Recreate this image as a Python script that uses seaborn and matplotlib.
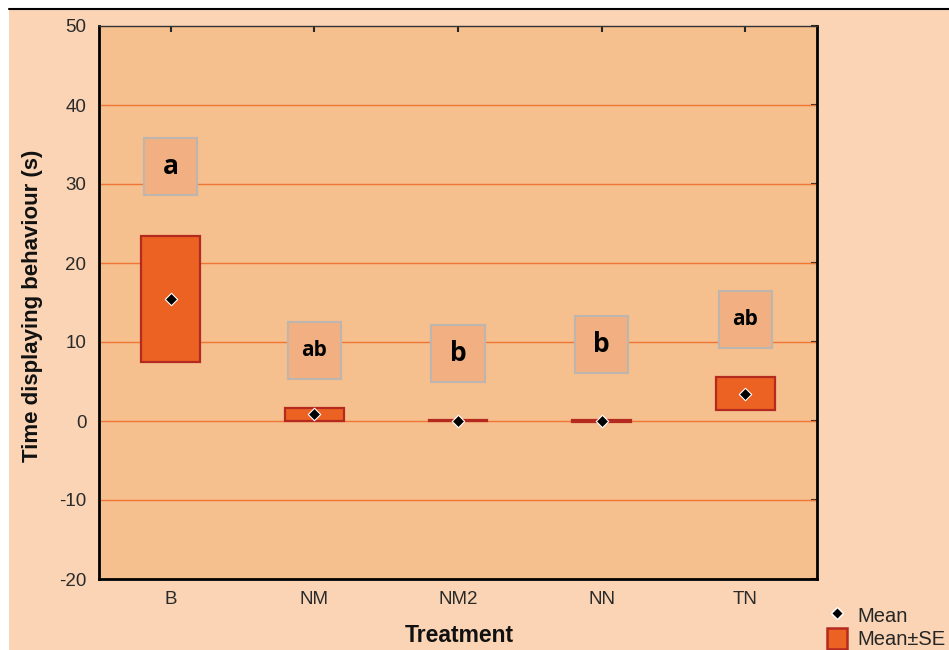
import numpy as np
import pandas as pd
import matplotlib
matplotlib.use("Agg")
import matplotlib.pyplot as plt
from matplotlib.patches import Rectangle
from matplotlib.lines import Line2D
from matplotlib.patches import Patch
import seaborn as sns

# ---- data ----
treatments = ["B", "NM", "NM2", "NN", "TN"]
means = [15.4, 0.9, 0.05, 0.0, 3.4]
se_low = [7.5, 0.0, 0.0, -0.1, 1.4]
se_high = [23.4, 1.6, 0.15, 0.1, 5.6]
letters = ["a", "ab", "b", "b", "ab"]
letter_y = [32.2, 8.9, 8.55, 9.65, 12.85]
yticks = [-20, -10, 0, 10, 20, 30, 40, 50]

df = pd.DataFrame({"Treatment": treatments, "Mean": means,
                   "low": se_low, "high": se_high})

sns.set_style("white")
plt.rcParams["font.family"] = ["Liberation Sans", "DejaVu Sans"]
plt.rcParams["axes.unicode_minus"] = False

OUTER = "#FAD4B4"
AXBG = "#F5BF8E"
BARFC = "#EB6223"
BAREC = "#B52A1E"
GRID = "#F07634"
BOXFC = "#F2B082"
BOXEC = "#BDB5AE"

fig = plt.figure(figsize=(9.49, 6.5), dpi=100)
fig.patch.set_facecolor("white")
fig.patches.append(Rectangle((9 / 949, 0), 1, 1 - 9 / 650, transform=fig.transFigure,
                             facecolor=OUTER, edgecolor="none", zorder=-10))
fig.lines.append(Line2D([9 / 949, 1], [1 - 9 / 650, 1 - 9 / 650], transform=fig.transFigure,
                        color="black", lw=1.5))

ax = fig.add_axes([99 / 949, 1 - 579 / 650, (817 - 99) / 949, (579 - 26) / 650])
ax.set_facecolor(AXBG)

x = np.arange(len(treatments))
ax.set_xlim(-0.5, len(treatments) - 0.5)
ax.set_ylim(-20, 50)
ax.set_yticks(yticks)
ax.set_xticks(x)
ax.set_xticklabels(treatments)

for yv in yticks[1:-1]:
    ax.axhline(yv, color=GRID, lw=1.0, zorder=1)

# SE boxes
ax.bar(x, df["high"] - df["low"], bottom=df["low"], width=0.41,
       color=BARFC, edgecolor=BAREC, linewidth=1.6, zorder=3)

# letter boxes
bw, bh = 0.37, 7.2
for xi, lab, ly in zip(x, letters, letter_y):
    ax.add_patch(Rectangle((xi - bw / 2, ly - bh / 2), bw, bh, facecolor=BOXFC,
                           edgecolor=BOXEC, linewidth=1.5, zorder=4))
    ax.text(xi, ly, lab, ha="center", va="center", fontsize=15 if len(lab) > 1 else 19,
            fontweight="bold", family=["Open Sans", "DejaVu Sans"], color="black", zorder=5)

# means
sns.scatterplot(data=df, x=x, y="Mean", marker="D", s=40, color="black",
                edgecolor="white", linewidth=0.8, zorder=6, ax=ax, legend=False)

ax.set_xlabel("")
ax.set_ylabel("")
fig.text(33 / 949, 1 - 306 / 650, "Time displaying behaviour (s)", rotation=90,
         ha="center", va="center", fontsize=16, fontweight="bold", color="#111111")
fig.text(459 / 949, 1 - 635 / 650, "Treatment",
         ha="center", va="center", fontsize=16.5, fontweight="bold", color="#111111")

for side in ["left", "right", "bottom"]:
    ax.spines[side].set_linewidth(2.0)
    ax.spines[side].set_color("black")
ax.spines["top"].set_linewidth(1.0)
ax.spines["top"].set_color("#333333")
ax.tick_params(direction="in", length=4, width=1.5, top=True, right=True,
               labelsize=13.5, labelcolor="#2a2a2a", pad=9)

handles = [Line2D([], [], marker="D", color="black", markeredgecolor="white", linestyle="none",
                  markersize=6),
           Patch(facecolor=BARFC, edgecolor=BAREC, linewidth=1.8)]
fig.legend(handles, ["Mean", "Mean\u00b1SE"], loc="lower left",
           bbox_to_anchor=(826 / 949, 0.0),
           frameon=False, fontsize=14.5, handlelength=1.0, handleheight=1.2,
           handletextpad=0.5, labelspacing=0.1, borderpad=0.05, borderaxespad=0.0)

fig.savefig("out.png", dpi=100, facecolor=fig.get_facecolor())
